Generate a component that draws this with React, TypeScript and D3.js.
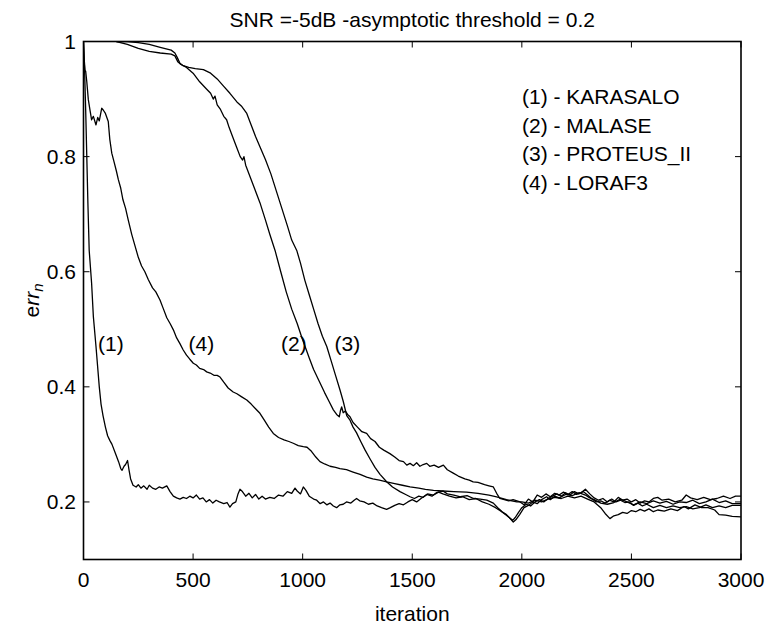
import React from "react";
import * as d3 from "d3";

const TITLE = "SNR =-5dB -asymptotic threshold = 0.2";
const X_LABEL = "iteration";
const X_TICKS = [0, 500, 1000, 1500, 2000, 2500, 3000];
const Y_TICKS = [0.2, 0.4, 0.6, 0.8, 1];
const LEGEND = ["(1) - KARASALO", "(2) - MALASE", "(3) - PROTEUS_II", "(4) - LORAF3"];

// [iteration, err_n]
const KARASALO: [number, number][] = [
  [0, 1.0], [5, 0.95], [10, 0.88], [15, 0.8], [20, 0.72], [26, 0.637], [37, 0.58], [45, 0.522], [57, 0.47], [72, 0.4],
  [80, 0.37], [89, 0.35], [100, 0.33], [110, 0.315], [120, 0.307], [130, 0.3], [145, 0.285], [160, 0.27], [170, 0.258],
  [176, 0.255], [185, 0.262], [192, 0.265], [201, 0.272], [208, 0.255], [215, 0.24], [226, 0.229], [240, 0.226],
  [250, 0.23], [262, 0.224], [275, 0.228], [290, 0.222], [300, 0.229], [315, 0.224], [330, 0.222], [345, 0.226],
  [360, 0.224], [380, 0.228], [395, 0.218], [410, 0.21], [425, 0.207], [440, 0.205], [455, 0.208], [470, 0.206],
  [485, 0.21], [500, 0.207], [515, 0.212], [530, 0.205], [545, 0.207], [560, 0.2], [575, 0.204], [590, 0.198],
  [605, 0.203], [620, 0.2], [640, 0.197], [655, 0.199], [668, 0.191], [680, 0.197], [695, 0.2], [705, 0.214],
  [714, 0.222], [725, 0.218], [740, 0.21], [755, 0.215], [770, 0.207], [785, 0.213], [800, 0.205], [815, 0.21],
  [830, 0.205], [850, 0.208], [870, 0.206], [890, 0.212], [910, 0.21], [930, 0.218], [950, 0.215], [965, 0.224],
  [975, 0.219], [990, 0.214], [1003, 0.226], [1015, 0.22], [1030, 0.21], [1050, 0.205], [1064, 0.203], [1080, 0.197],
  [1095, 0.2], [1110, 0.195], [1125, 0.198], [1140, 0.193], [1155, 0.19], [1170, 0.195], [1185, 0.196], [1200, 0.2],
  [1220, 0.198], [1235, 0.203], [1246, 0.206], [1260, 0.202], [1280, 0.2], [1300, 0.196], [1320, 0.198], [1340, 0.193],
  [1360, 0.19], [1383, 0.187], [1400, 0.19], [1420, 0.194], [1440, 0.197], [1460, 0.195], [1480, 0.2], [1500, 0.204],
  [1520, 0.2], [1540, 0.206], [1566, 0.213], [1590, 0.21], [1610, 0.216], [1640, 0.219], [1660, 0.214], [1690, 0.212],
  [1720, 0.209], [1750, 0.211], [1780, 0.206], [1810, 0.205], [1840, 0.203], [1870, 0.198], [1890, 0.19], [1910, 0.183],
  [1930, 0.178], [1950, 0.17], [1961, 0.165], [1975, 0.17], [1990, 0.178], [2010, 0.19], [2030, 0.194], [2050, 0.2],
  [2070, 0.197], [2090, 0.204], [2113, 0.209], [2130, 0.204], [2150, 0.21], [2170, 0.207], [2200, 0.213], [2230, 0.211],
  [2260, 0.216], [2290, 0.212], [2310, 0.207], [2330, 0.204], [2360, 0.198], [2390, 0.196], [2420, 0.199], [2450, 0.205],
  [2480, 0.2], [2510, 0.195], [2540, 0.2], [2570, 0.197], [2600, 0.202], [2630, 0.198], [2660, 0.201], [2690, 0.196],
  [2720, 0.2], [2750, 0.199], [2780, 0.203], [2810, 0.197], [2840, 0.2], [2870, 0.205], [2900, 0.199], [2930, 0.202],
  [2960, 0.197], [3000, 0.197],
];

const MALASE: [number, number][] = [
  [150, 1.0], [200, 0.995], [250, 0.988], [300, 0.983], [350, 0.98], [400, 0.978], [417, 0.975], [430, 0.965],
  [445, 0.96], [470, 0.955], [500, 0.945], [530, 0.93], [560, 0.918], [580, 0.91], [592, 0.9], [600, 0.905],
  [610, 0.89], [625, 0.882], [640, 0.87], [653, 0.864], [665, 0.85], [680, 0.835], [700, 0.815], [715, 0.8],
  [726, 0.794], [732, 0.8], [740, 0.785], [760, 0.765], [780, 0.745], [805, 0.72], [830, 0.69], [850, 0.665],
  [874, 0.637], [900, 0.6], [925, 0.565], [950, 0.535], [975, 0.51], [995, 0.487], [1011, 0.47], [1030, 0.45],
  [1050, 0.43], [1075, 0.41], [1100, 0.39], [1120, 0.375], [1140, 0.36], [1155, 0.352], [1167, 0.348], [1172, 0.358],
  [1178, 0.365], [1185, 0.355], [1195, 0.358], [1205, 0.352], [1216, 0.348], [1230, 0.338], [1250, 0.33], [1270, 0.322],
  [1292, 0.319], [1310, 0.31], [1330, 0.305], [1350, 0.295], [1370, 0.29], [1398, 0.284], [1420, 0.278], [1440, 0.272],
  [1460, 0.27], [1475, 0.264], [1490, 0.267], [1505, 0.263], [1520, 0.268], [1535, 0.262], [1550, 0.265], [1566, 0.267],
  [1580, 0.262], [1600, 0.264], [1620, 0.26], [1642, 0.264], [1660, 0.256], [1687, 0.25], [1710, 0.245], [1740, 0.24],
  [1760, 0.238], [1778, 0.235], [1800, 0.234], [1830, 0.23], [1850, 0.228], [1870, 0.226], [1885, 0.215], [1900, 0.206],
  [1920, 0.204], [1940, 0.202], [1960, 0.204], [1992, 0.2], [2010, 0.195], [2030, 0.205], [2050, 0.2], [2070, 0.212],
  [2090, 0.208], [2110, 0.214], [2130, 0.209], [2150, 0.215], [2170, 0.212], [2190, 0.217], [2210, 0.213], [2230, 0.218],
  [2250, 0.213], [2270, 0.216], [2290, 0.222], [2310, 0.214], [2330, 0.207], [2350, 0.203], [2370, 0.206], [2390, 0.2],
  [2410, 0.205], [2430, 0.2], [2450, 0.203], [2470, 0.199], [2490, 0.2], [2510, 0.194], [2530, 0.198], [2550, 0.193],
  [2570, 0.196], [2600, 0.19], [2630, 0.194], [2660, 0.19], [2690, 0.193], [2720, 0.19], [2750, 0.192], [2780, 0.188],
  [2810, 0.19], [2840, 0.195], [2870, 0.19], [2900, 0.193], [2930, 0.19], [2960, 0.194], [3000, 0.194],
];

const PROTEUS_II: [number, number][] = [
  [150, 1.0], [200, 1.0], [250, 0.998], [300, 0.995], [350, 0.99], [400, 0.985], [417, 0.98], [428, 0.972],
  [440, 0.962], [455, 0.958], [480, 0.955], [510, 0.953], [547, 0.951], [580, 0.945], [610, 0.935], [640, 0.922],
  [668, 0.91], [700, 0.895], [720, 0.888], [745, 0.875], [765, 0.855], [785, 0.835], [805, 0.817], [830, 0.795],
  [855, 0.77], [880, 0.74], [905, 0.71], [930, 0.68], [950, 0.655], [973, 0.637], [990, 0.615], [1010, 0.585],
  [1030, 0.56], [1050, 0.535], [1070, 0.51], [1090, 0.488], [1110, 0.47], [1130, 0.445], [1150, 0.42], [1170, 0.395],
  [1185, 0.375], [1201, 0.35], [1216, 0.342], [1230, 0.33], [1246, 0.32], [1265, 0.305], [1285, 0.29], [1307, 0.275],
  [1330, 0.26], [1353, 0.248], [1383, 0.235], [1410, 0.226], [1444, 0.218], [1470, 0.213], [1490, 0.209], [1510, 0.206],
  [1530, 0.21], [1550, 0.208], [1570, 0.214], [1597, 0.212], [1620, 0.217], [1640, 0.214], [1670, 0.21], [1700, 0.207],
  [1730, 0.209], [1760, 0.204], [1790, 0.206], [1820, 0.2], [1850, 0.196], [1880, 0.19], [1905, 0.184], [1925, 0.178],
  [1945, 0.172], [1958, 0.168], [1970, 0.173], [1985, 0.182], [2000, 0.19], [2020, 0.196], [2040, 0.193], [2060, 0.2],
  [2080, 0.204], [2100, 0.2], [2120, 0.206], [2140, 0.21], [2160, 0.214], [2180, 0.21], [2200, 0.216], [2220, 0.212],
  [2240, 0.218], [2260, 0.214], [2280, 0.218], [2300, 0.212], [2320, 0.205], [2340, 0.2], [2360, 0.202], [2380, 0.198],
  [2400, 0.203], [2420, 0.2], [2440, 0.208], [2460, 0.203], [2480, 0.205], [2500, 0.2], [2520, 0.204], [2540, 0.198],
  [2560, 0.202], [2580, 0.2], [2600, 0.206], [2620, 0.208], [2640, 0.203], [2670, 0.205], [2700, 0.2], [2730, 0.203],
  [2750, 0.212], [2770, 0.207], [2800, 0.204], [2830, 0.208], [2860, 0.204], [2890, 0.206], [2920, 0.21], [2950, 0.206],
  [2975, 0.21], [3000, 0.21],
];

const LORAF3: [number, number][] = [
  [0, 1.0], [3, 0.97], [7, 0.95], [10, 0.948], [15, 0.93], [22, 0.899], [30, 0.88], [37, 0.864], [45, 0.87],
  [57, 0.855], [65, 0.868], [72, 0.862], [83, 0.884], [90, 0.881], [100, 0.875], [113, 0.861], [120, 0.83],
  [129, 0.806], [140, 0.79], [150, 0.775], [159, 0.76], [170, 0.745], [180, 0.725], [192, 0.71], [204, 0.69],
  [220, 0.665], [235, 0.645], [250, 0.625], [265, 0.61], [280, 0.6], [296, 0.586], [315, 0.572], [330, 0.565],
  [349, 0.551], [365, 0.535], [380, 0.52], [395, 0.51], [410, 0.499], [425, 0.485], [440, 0.475], [455, 0.464],
  [470, 0.455], [485, 0.448], [501, 0.441], [515, 0.438], [530, 0.432], [548, 0.43], [562, 0.426], [578, 0.424],
  [595, 0.42], [610, 0.42], [623, 0.417], [640, 0.408], [660, 0.398], [683, 0.391], [700, 0.388], [720, 0.383],
  [745, 0.377], [765, 0.37], [785, 0.362], [805, 0.354], [825, 0.342], [845, 0.33], [866, 0.319], [890, 0.312],
  [915, 0.308], [937, 0.305], [957, 0.302], [980, 0.298], [1003, 0.296], [1020, 0.295], [1040, 0.288], [1060, 0.278],
  [1079, 0.27], [1100, 0.266], [1125, 0.262], [1150, 0.26], [1170, 0.258], [1200, 0.256], [1230, 0.252],
  [1262, 0.248], [1292, 0.243], [1320, 0.24], [1350, 0.238], [1383, 0.235], [1420, 0.232], [1455, 0.229],
  [1490, 0.226], [1530, 0.224], [1560, 0.222], [1597, 0.22], [1640, 0.219], [1690, 0.218], [1748, 0.217],
  [1800, 0.215], [1850, 0.212], [1885, 0.209], [1930, 0.204], [1977, 0.2], [2000, 0.2], [2030, 0.198],
  [2060, 0.203], [2090, 0.2], [2120, 0.205], [2150, 0.208], [2180, 0.206], [2210, 0.21], [2240, 0.207],
  [2270, 0.21], [2300, 0.205], [2330, 0.2], [2360, 0.19], [2380, 0.18], [2402, 0.171], [2420, 0.176],
  [2440, 0.178], [2460, 0.182], [2480, 0.18], [2500, 0.185], [2520, 0.183], [2540, 0.187], [2560, 0.184],
  [2580, 0.188], [2600, 0.183], [2620, 0.186], [2650, 0.184], [2680, 0.188], [2710, 0.185], [2740, 0.192],
  [2760, 0.188], [2790, 0.195], [2820, 0.19], [2850, 0.19], [2880, 0.186], [2900, 0.178], [2930, 0.177],
  [2960, 0.175], [3000, 0.174],
];

const SERIES = [KARASALO, MALASE, PROTEUS_II, LORAF3];
// curve labels: [text, iteration, err (baseline)]
const CURVE_LABELS: [string, number, number][] = [
  ["(1)", 125, 0.462],
  ["(4)", 538, 0.462],
  ["(2)", 960, 0.462],
  ["(3)", 1204, 0.462],
];

const W = 766;
const H = 626;
const M = { left: 83.5, right: 741, top: 41.5, bottom: 559.5 };
const FONT = "Arial, 'Liberation Sans', Helvetica, sans-serif";
const FS = 21;

export default function App() {
  const x = d3.scaleLinear().domain([0, 3000]).range([M.left, M.right]);
  const y = d3.scaleLinear().domain([0.1, 1]).range([M.bottom, M.top]);
  const line = d3
    .line<[number, number]>()
    .x((d) => x(d[0]))
    .y((d) => y(d[1]));
  const tl = 6;

  return (
    <svg
      width={W}
      height={H}
      style={{ position: "absolute", left: 0, top: 0, background: "#fff" }}
      fontFamily={FONT}
    >
      <rect x={0} y={0} width={W} height={H} fill="#fff" />
      <defs>
        <clipPath id="plotclip">
          <rect x={M.left} y={M.top} width={M.right - M.left} height={M.bottom - M.top} />
        </clipPath>
      </defs>
      <g clipPath="url(#plotclip)">
        {SERIES.map((s, i) => (
          <path key={i} d={line(s) || ""} fill="none" stroke="#000" strokeWidth={1.3} strokeLinejoin="round" />
        ))}
      </g>
      {X_TICKS.map((t) => (
        <g key={"xt" + t}>
          <line x1={x(t)} x2={x(t)} y1={M.bottom} y2={M.bottom - tl} stroke="#000" strokeWidth={1} />
          <line x1={x(t)} x2={x(t)} y1={M.top} y2={M.top + tl} stroke="#000" strokeWidth={1} />
          <text x={x(t)} y={587} fontSize={FS} textAnchor="middle" fill="#000">
            {t}
          </text>
        </g>
      ))}
      {Y_TICKS.map((t) => (
        <g key={"yt" + t}>
          <line x1={M.left} x2={M.left + tl} y1={y(t)} y2={y(t)} stroke="#000" strokeWidth={1} />
          <line x1={M.right} x2={M.right - tl} y1={y(t)} y2={y(t)} stroke="#000" strokeWidth={1} />
          <text x={76} y={y(t) + 7.5} fontSize={FS} textAnchor="end" fill="#000">
            {t}
          </text>
        </g>
      ))}
      <rect
        x={M.left}
        y={M.top}
        width={M.right - M.left}
        height={M.bottom - M.top}
        fill="none"
        stroke="#000"
        strokeWidth={1.6}
      />
      <text x={(M.left + M.right) / 2} y={26.5} fontSize={FS} textAnchor="middle" fill="#000">
        {TITLE}
      </text>
      <text x={(M.left + M.right) / 2} y={621} fontSize={FS} textAnchor="middle" fill="#000">
        {X_LABEL}
      </text>
      <text transform={`translate(39,${y(0.55)}) rotate(-90)`} fontSize={FS} textAnchor="middle" fill="#000">
        <tspan>e</tspan>
        <tspan fontStyle="italic">rr</tspan>
        <tspan fontStyle="italic" fontSize={15} dy={4}>
          n
        </tspan>
      </text>
      {LEGEND.map((l, i) => (
        <text key={l} x={522} y={104 + i * 28.6} fontSize={FS} fill="#000">
          {l}
        </text>
      ))}
      {CURVE_LABELS.map(([t, it, v]) => (
        <text key={t} x={x(it)} y={y(v)} fontSize={FS} textAnchor="middle" fill="#000">
          {t}
        </text>
      ))}
    </svg>
  );
}
